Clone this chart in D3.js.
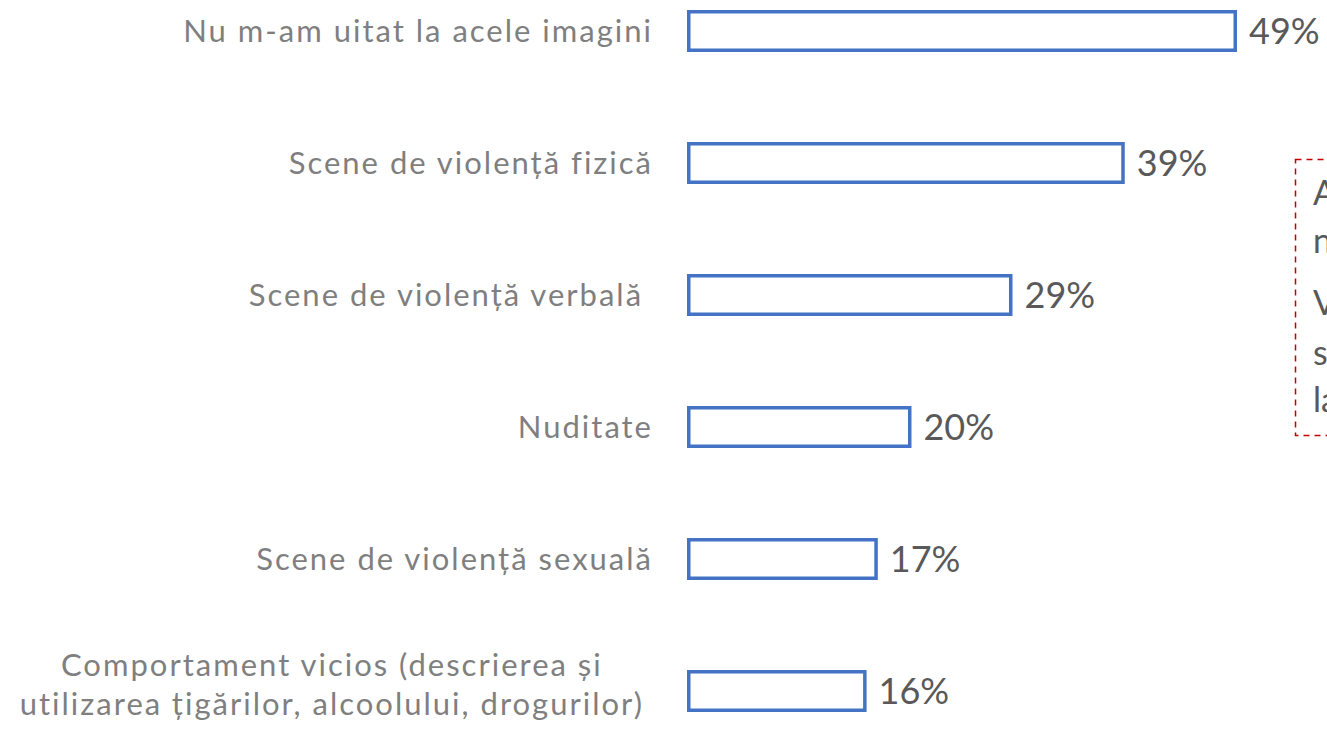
<!DOCTYPE html>
<html>
<head>
<meta charset="utf-8">
<script src="https://cdn.jsdelivr.net/npm/d3@7"></script>
<style>
  html, body { margin: 0; padding: 0; background: #fff; overflow: hidden; }
  svg { display: block; font-family: "Lato", "Noto Sans", sans-serif; }
</style>
</head>
<body>
<svg id="chart" width="1327" height="733"></svg>
<script>
// categories, top to bottom
const categories = [
  "Nu m-am uitat la acele imagini",
  "Scene de violență fizică",
  "Scene de violență verbală ",
  "Nuditate",
  "Scene de violență sexuală",
  "Comportament vicios (descrierea și|utilizarea țigărilor, alcoolului, drogurilor)"
];
const values = [49, 39, 29, 20, 17, 16];
const noteLines = [
  "Aproape jumătate dintre copii",
  "nu s-au uitat la acele imagini.",
  "Violența fizică și cea verbală",
  "sunt scenele văzute cel mai des",
  "la care s-au uitat copiii."
];

const BAR_LEFT = 687;
const LABEL_RIGHT = 653;
const BLUE = "#4472C4";
const LABEL_SIZE = "31px";
const LABEL_SPACING = "2px";

const svg = d3.select("#chart");

const x = d3.scaleLinear().domain([0, 49]).range([BAR_LEFT, 1237]);
const y = d3.scaleBand().domain(categories).range([10, 712])
  .paddingInner(0.682).paddingOuter(0);

const rows = svg.selectAll(".row")
  .data(categories.map((c, i) => ({ cat: c, val: values[i] })))
  .enter()
  .append("g")
  .attr("class", "row");

rows.append("rect")
  .attr("x", x(0) + 1.75)
  .attr("y", d => y(d.cat) + 1.75)
  .attr("width", d => x(d.val) - x(0) - 3.5)
  .attr("height", y.bandwidth() - 3.5)
  .attr("fill", "#fff")
  .attr("stroke", BLUE)
  .attr("stroke-width", 3.5);

rows.append("text")
  .attr("x", d => x(d.val) + 12)
  .attr("y", d => y(d.cat) + y.bandwidth() / 2)
  .attr("dy", "0.36em")
  .attr("font-size", "36px")
  .attr("fill", "#595959")
  .text(d => d.val + "%");

// category labels
rows.each(function(d) {
  const g = d3.select(this);
  const cy = y(d.cat) + y.bandwidth() / 2;
  const parts = d.cat.split("|");
  if (parts.length === 1) {
    g.append("text")
      .attr("x", LABEL_RIGHT)
      .attr("y", cy)
      .attr("dy", "0.35em")
      .attr("text-anchor", "end")
      .attr("font-size", LABEL_SIZE)
      .attr("letter-spacing", LABEL_SPACING)
      .attr("fill", "#7f7f7f")
      .style("white-space", "pre")
      .text(d.cat);
  } else {
    // two centred lines
    const t2 = g.append("text")
      .attr("x", 644)
      .attr("y", cy + 13)
      .attr("dy", "0.35em")
      .attr("text-anchor", "end")
      .attr("font-size", LABEL_SIZE)
      .attr("letter-spacing", LABEL_SPACING)
      .attr("fill", "#7f7f7f")
      .text(parts[1]);
    const w2 = t2.node().getComputedTextLength();
    g.append("text")
      .attr("x", 644 - w2 / 2)
      .attr("y", cy - 26)
      .attr("dy", "0.35em")
      .attr("text-anchor", "middle")
      .attr("font-size", LABEL_SIZE)
      .attr("letter-spacing", LABEL_SPACING)
      .attr("fill", "#7f7f7f")
      .text(parts[0]);
  }
});

// note box on the right, cut by the page edge
const note = svg.append("g").attr("class", "note");
note.append("rect")
  .attr("x", 1295.5)
  .attr("y", 159.5)
  .attr("width", 320)
  .attr("height", 276)
  .attr("fill", "none")
  .attr("stroke", "#C00000")
  .attr("stroke-width", 1.5)
  .attr("stroke-dasharray", "6 5");

const noteY = [205, 253, 315, 365, 412];
note.selectAll("text")
  .data(noteLines)
  .enter()
  .append("text")
  .attr("x", 1313)
  .attr("y", (d, i) => noteY[i])
  .attr("font-size", "34px")
  .attr("fill", "#595959")
  .text(d => d);
</script>
</body>
</html>
